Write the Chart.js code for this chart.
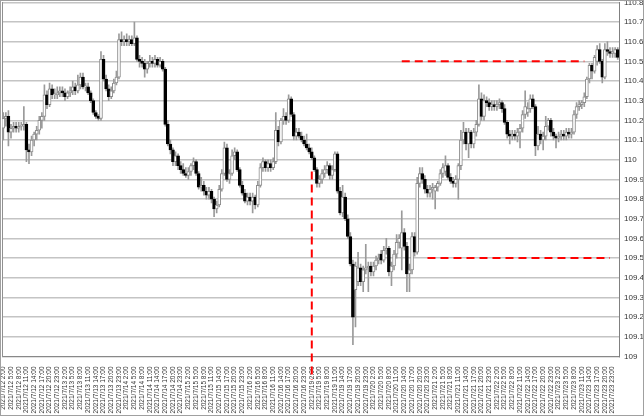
<!DOCTYPE html>
<html><head><meta charset="utf-8">
<script src="https://cdn.jsdelivr.net/npm/chart.js@4"></script>
<style>html,body{margin:0;padding:0;background:#fff}#w{width:644px;height:416px;position:relative}</style>
</head><body><div id="w"><canvas id="c" width="644" height="416"></canvas></div>
<script>
// ---- data ----
const days = ['2021/7/12','2021/7/13','2021/7/14','2021/7/15','2021/7/16','2021/7/19','2021/7/20','2021/7/21','2021/7/22','2021/7/23','2021/7/24'];
const firstHour = 2;
const open = [
110.16,110.21,110.22,110.14,110.16,110.17,110.16,110.17,110.17,110.18,
110.05,110.04,110.10,110.13,110.15,110.20,110.22,110.33,110.28,110.36,
110.33,110.33,110.34,110.35,110.34,110.32,110.34,110.35,110.37,110.35,
110.38,110.42,110.37,110.37,110.34,110.30,110.24,110.22,110.21,110.51,
110.41,110.36,110.32,110.35,110.39,110.42,110.61,110.60,110.61,110.60,
110.61,110.59,110.62,110.51,110.50,110.49,110.46,110.49,110.50,110.49,
110.51,110.48,110.50,110.46,110.18,110.08,110.05,109.99,110.02,109.97,
109.95,109.93,109.92,109.94,109.97,109.99,109.93,109.86,109.87,109.84,
109.82,109.84,109.80,109.75,109.77,109.85,109.93,110.06,109.90,109.93,
110.02,110.04,109.95,109.87,109.83,109.79,109.81,109.79,109.81,109.77,
109.87,109.96,109.99,109.96,109.98,109.96,109.99,110.15,110.09,110.20,
110.22,110.20,110.31,110.23,110.12,110.14,110.12,110.10,110.08,110.06,
110.04,110.01,109.95,109.88,109.90,109.93,109.95,109.97,109.92,109.95,
110.03,109.84,109.73,109.81,109.70,109.61,109.47,109.34,109.38,109.45,
109.38,109.44,109.45,109.46,109.43,109.46,109.49,109.52,109.49,109.54,
109.55,109.43,109.46,109.52,109.58,109.55,109.63,109.56,109.42,109.44,
109.61,109.53,109.88,109.93,109.90,109.85,109.83,109.85,109.84,109.86,
109.88,109.93,109.94,109.97,109.91,109.89,109.88,109.90,109.97,110.10,
110.14,110.08,110.14,110.08,110.14,110.18,110.31,110.22,110.30,110.29,
110.27,110.28,110.27,110.28,110.29,110.26,110.19,110.13,110.12,110.13,
110.12,110.14,110.16,110.23,110.24,110.26,110.31,110.27,110.07,110.13,
110.10,110.12,110.17,110.20,110.14,110.12,110.11,110.12,110.13,110.12,
110.14,110.13,110.14,110.23,110.27,110.28,110.29,110.32,110.41,110.48,
110.45,110.50,110.56,110.50,110.42,110.56,110.55,110.54,110.54,110.56];
const high = [
110.24,110.24,110.25,110.18,110.19,110.19,110.19,110.19,110.27,110.19,
110.08,110.12,110.14,110.17,110.22,110.24,110.38,110.35,110.39,110.38,
110.36,110.37,110.37,110.37,110.36,110.35,110.37,110.40,110.39,110.43,
110.44,110.44,110.39,110.39,110.35,110.31,110.25,110.23,110.55,110.53,
110.43,110.38,110.37,110.41,110.45,110.64,110.65,110.63,110.64,110.63,
110.63,110.70,110.63,110.53,110.52,110.51,110.50,110.53,110.52,110.53,
110.52,110.52,110.51,110.47,110.20,110.10,110.06,110.04,110.03,109.99,
109.98,109.96,109.96,109.98,110.01,110.00,109.94,109.91,109.89,109.86,
109.86,109.85,109.81,109.79,109.87,109.95,110.09,110.08,109.95,110.05,
110.06,110.05,109.96,109.89,109.85,109.83,109.83,109.83,109.82,109.89,
109.98,110.01,110.00,110.00,110.00,110.01,110.24,110.17,110.21,110.26,
110.24,110.33,110.32,110.24,110.16,110.16,110.14,110.12,110.13,110.08,
110.06,110.02,109.96,109.92,109.95,109.97,109.99,109.98,109.97,110.04,
110.04,109.86,109.87,109.83,109.72,109.63,109.49,109.48,109.53,109.47,
109.46,109.57,109.48,109.48,109.48,109.51,109.52,109.54,109.56,109.60,
109.56,109.48,109.54,109.62,109.62,109.74,109.65,109.58,109.47,109.63,
109.63,109.91,109.96,109.96,109.92,109.87,109.87,109.88,109.87,109.89,
109.95,109.98,110.02,109.98,109.93,109.91,109.92,109.98,110.15,110.19,
110.16,110.16,110.15,110.16,110.20,110.38,110.34,110.33,110.32,110.31,
110.30,110.30,110.30,110.31,110.30,110.28,110.20,110.15,110.15,110.15,
110.16,110.18,110.25,110.35,110.29,110.33,110.33,110.28,110.17,110.15,
110.14,110.22,110.21,110.21,110.16,110.13,110.14,110.15,110.15,110.16,
110.16,110.16,110.25,110.29,110.30,110.30,110.34,110.42,110.49,110.49,
110.53,110.58,110.59,110.51,110.59,110.60,110.57,110.57,110.57,110.57];
const low = [
110.10,110.17,110.07,110.11,110.14,110.14,110.14,110.15,110.15,109.99,
109.98,110.02,110.07,110.10,110.13,110.16,110.20,110.26,110.27,110.31,
110.31,110.31,110.32,110.32,110.30,110.31,110.32,110.33,110.33,110.34,
110.36,110.36,110.35,110.33,110.29,110.23,110.21,110.20,110.20,110.40,
110.35,110.30,110.31,110.34,110.38,110.41,110.58,110.58,110.58,110.58,
110.58,110.58,110.50,110.47,110.47,110.42,110.44,110.47,110.47,110.47,
110.47,110.47,110.45,110.17,110.07,110.03,109.97,109.97,109.95,109.93,
109.92,109.91,109.90,109.92,109.95,109.92,109.85,109.84,109.82,109.80,
109.80,109.78,109.71,109.73,109.76,109.84,109.92,109.89,109.88,109.92,
110.00,109.94,109.86,109.82,109.78,109.77,109.77,109.73,109.75,109.76,
109.86,109.94,109.94,109.94,109.94,109.95,109.98,110.07,110.08,110.18,
110.18,110.19,110.22,110.10,110.10,110.11,110.09,110.07,110.05,110.03,
110.00,109.94,109.86,109.86,109.88,109.91,109.93,109.90,109.90,109.94,
109.83,109.72,109.71,109.69,109.60,109.46,109.06,109.15,109.36,109.36,
109.33,109.42,109.33,109.41,109.41,109.44,109.47,109.47,109.48,109.52,
109.41,109.36,109.44,109.50,109.55,109.44,109.54,109.33,109.33,109.42,
109.51,109.52,109.86,109.88,109.83,109.81,109.81,109.80,109.75,109.84,
109.87,109.91,109.92,109.90,109.88,109.86,109.86,109.80,109.95,110.08,
110.05,110.01,110.06,110.06,110.12,110.17,110.20,110.20,110.27,110.25,
110.25,110.25,110.25,110.26,110.24,110.18,110.11,110.08,110.10,110.10,
110.09,110.06,110.14,110.21,110.22,110.24,110.26,110.02,110.05,110.08,
110.05,110.10,110.15,110.12,110.10,110.06,110.09,110.10,110.10,110.10,
110.11,110.11,110.13,110.21,110.25,110.26,110.27,110.31,110.39,110.41,
110.44,110.48,110.49,110.39,110.41,110.53,110.52,110.52,110.52,110.51];
const close = [
110.21,110.22,110.14,110.16,110.17,110.16,110.17,110.17,110.18,110.05,
110.04,110.10,110.13,110.15,110.20,110.22,110.33,110.28,110.36,110.33,
110.33,110.34,110.35,110.34,110.32,110.34,110.35,110.37,110.35,110.38,
110.42,110.37,110.37,110.34,110.30,110.24,110.22,110.21,110.51,110.41,
110.36,110.32,110.35,110.39,110.42,110.61,110.60,110.61,110.60,110.61,
110.59,110.62,110.51,110.50,110.49,110.46,110.49,110.50,110.49,110.51,
110.48,110.50,110.46,110.18,110.08,110.05,109.99,110.02,109.97,109.95,
109.93,109.92,109.94,109.97,109.99,109.93,109.86,109.87,109.84,109.82,
109.84,109.80,109.75,109.77,109.85,109.93,110.06,109.90,109.93,110.02,
110.04,109.95,109.87,109.83,109.79,109.81,109.79,109.81,109.77,109.87,
109.96,109.99,109.96,109.98,109.96,109.99,110.15,110.09,110.20,110.22,
110.20,110.31,110.23,110.12,110.14,110.12,110.10,110.08,110.06,110.04,
110.01,109.95,109.88,109.90,109.93,109.95,109.97,109.92,109.95,110.03,
109.84,109.73,109.81,109.70,109.61,109.47,109.20,109.46,109.45,109.38,
109.44,109.45,109.46,109.43,109.46,109.49,109.50,109.49,109.54,109.55,
109.43,109.46,109.52,109.58,109.60,109.63,109.56,109.42,109.44,109.61,
109.53,109.88,109.93,109.90,109.85,109.83,109.85,109.86,109.86,109.88,
109.93,109.96,109.97,109.91,109.89,109.88,109.90,109.97,110.10,110.14,
110.08,110.14,110.08,110.14,110.18,110.31,110.22,110.30,110.29,110.27,
110.28,110.27,110.28,110.29,110.26,110.19,110.13,110.12,110.13,110.12,
110.14,110.16,110.23,110.27,110.26,110.31,110.27,110.07,110.13,110.10,
110.12,110.17,110.20,110.14,110.12,110.11,110.12,110.13,110.12,110.14,
110.13,110.14,110.23,110.27,110.28,110.29,110.32,110.41,110.48,110.45,
110.52,110.56,110.50,110.42,110.56,110.55,110.54,110.55,110.56,110.52];
const yMin = 109, yMax = 110.8, yStep = 0.1;
const resistanceLevel = 110.5, resistanceFrom = 155, resistanceTo = 226;
const supportLevel = 109.5, supportFrom = 165, supportTo = 236;
const markIndex = 120, markTop = 109.94, markBottom = 108.88;
const labelEvery = 3;

const labels = open.map((_, i) => { const h = i + firstHour; return days[Math.floor(h / 24)] + ' ' + (h % 24) + ':00'; });
const isDown = i => close[i] < open[i];

const frame = { id: 'frame', afterDraw(c) { const x = c.ctx; x.save(); x.strokeStyle = '#a0a0a0'; x.lineWidth = 1; x.strokeRect(0.5, 0.5, 643, 415); x.restore(); } };
const FONT = 'Liberation Sans, Arial, sans-serif';

new Chart(document.getElementById('c'), {
  type: 'bar',
  data: {
    labels,
    datasets: [
      { type: 'line', data: [{x: labels[resistanceFrom], y: resistanceLevel}, {x: labels[resistanceTo], y: resistanceLevel}], borderColor: '#ff0000', borderWidth: 2, borderDash: [8, 5], pointRadius: 0, order: -1 },
      { type: 'line', data: [{x: labels[supportFrom], y: supportLevel}, {x: labels[supportTo], y: supportLevel}], borderColor: '#ff0000', borderWidth: 2, borderDash: [8, 5], pointRadius: 0, order: -1 },
      { type: 'line', data: [{x: labels[markIndex], y: markTop}, {x: labels[markIndex], y: markBottom}], borderColor: '#ff0000', borderWidth: 2, borderDash: [8, 5], pointRadius: 0, order: -1, clip: false },
      { data: open.map((o, i) => [o, close[i]]), grouped: false, barThickness: 3, minBarLength: 1, borderSkipped: false, borderWidth: 1,
        backgroundColor: c => isDown(c.dataIndex) ? '#000000' : '#ffffff',
        borderColor: c => isDown(c.dataIndex) ? '#000000' : '#8c8c8c', order: 0 },
      { data: low.map((l, i) => [l, high[i]]), grouped: false, barThickness: 1, backgroundColor: '#9a9a9a', borderWidth: 0, order: 1 }
    ]
  },
  options: {
    responsive: false, animation: false, devicePixelRatio: 1,
    layout: { padding: { left: 2, top: 2.3, right: 0, bottom: 0 } },
    plugins: { legend: { display: false }, tooltip: { enabled: false } },
    scales: {
      x: {
        grid: { display: false },
        border: { display: true, color: '#888888', dash: [1, 1] },
        ticks: { autoSkip: false, maxRotation: 90, minRotation: 90, padding: 2, color: '#333333', font: { family: FONT, size: 6.5 },
          callback: (v, i) => (i % labelEvery === 0 ? labels[i] : '') },
        afterFit: s => { s.height = 59.5; s.paddingLeft = 0; s.paddingRight = 0; }
      },
      y: {
        position: 'right', min: yMin, max: yMax,
        grid: { color: '#c4c4c4', lineWidth: 1.5, drawTicks: false },
        border: { display: true, color: '#808080', width: 1 },
        ticks: { stepSize: yStep, padding: 5, color: '#333333', font: { family: FONT, size: 8 },
          callback: v => String(parseFloat(v.toFixed(1))) },
        afterFit: s => { s.width = 25; s.paddingTop = 0; s.paddingBottom = 0; }
      },
      yl: {
        position: 'left', min: yMin, max: yMax, display: true,
        grid: { display: false, drawTicks: false },
        border: { display: true, color: '#909090' },
        ticks: { display: false },
        afterFit: s => { s.width = 0; s.paddingTop = 0; s.paddingBottom = 0; }
      }
    }
  },
  plugins: [frame]
});
</script></body></html>
